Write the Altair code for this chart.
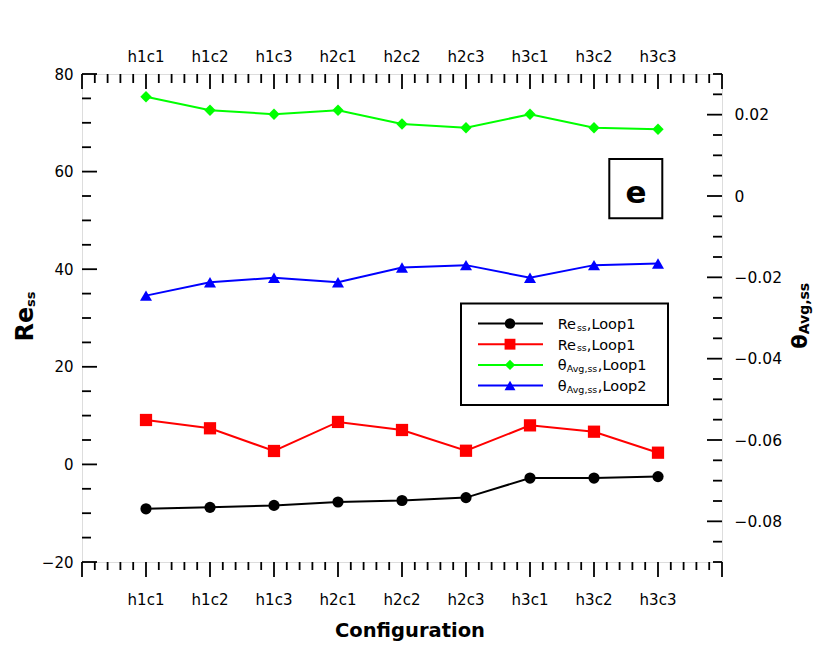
import altair as alt
import pandas as pd

# ---------------- data ----------------
configs = ["h1c1", "h1c2", "h1c3", "h2c1", "h2c2", "h2c3", "h3c1", "h3c2", "h3c3"]
positions = list(range(1, len(configs) + 1))

re_ss_loop1_black = [-9.1, -8.8, -8.4, -7.7, -7.4, -6.8, -2.8, -2.8, -2.5]
re_ss_loop1_red = [9.1, 7.4, 2.75, 8.7, 7.05, 2.8, 8.0, 6.7, 2.4]
theta_avg_ss_loop1 = [0.0244, 0.0211, 0.0201, 0.0211, 0.0177, 0.0168, 0.0201, 0.0168, 0.0164]
theta_avg_ss_loop2 = [-0.0245, -0.0212, -0.0201, -0.0212, -0.0176, -0.0170, -0.0201, -0.0170, -0.0166]

re_major = [-20, 0, 20, 40, 60, 80]
theta_major = [-0.08, -0.06, -0.04, -0.02, 0, 0.02]

# ---------------- layout / style ----------------
RE_DOMAIN = [-20, 80]
TH_DOMAIN = [-0.09, 0.03]
X_DOMAIN = [0, 10]
W, H = 640, 488
FONT = "DejaVu Sans"
TICK_W = 1.8

re_minor = [v for v in range(-20, 81, 5) if v % 20 != 0]
theta_minor = []
for i in range(25):
    v = round(-0.09 + 0.005 * i, 4)
    if abs(round(v / 0.02) * 0.02 - v) > 1e-9:
        theta_minor.append(v)
x_major = list(range(0, 11))
x_minor = [round(i * 0.2, 1) for i in range(51) if i % 5 != 0]


def xq(field="pos"):
    return alt.X(f"{field}:Q", scale=alt.Scale(domain=X_DOMAIN, nice=False, zero=False), axis=None)


def yq(field, domain, axis=None):
    return alt.Y(f"{field}:Q", scale=alt.Scale(domain=domain, nice=False, zero=False), axis=axis)


def one():
    return pd.DataFrame({"k": [0]})


def tick_layer(values, domain, orient, length):
    df = pd.DataFrame({"v": values})
    if orient == "left":
        enc = dict(y=yq("v", domain), x=alt.value(0), x2=alt.value(length))
    elif orient == "right":
        enc = dict(y=yq("v", domain), x=alt.value(W), x2=alt.value(W - length))
    elif orient == "top":
        enc = dict(x=xq("v"), y=alt.value(0), y2=alt.value(length))
    else:
        enc = dict(x=xq("v"), y=alt.value(H), y2=alt.value(H + length))
    return alt.Chart(df).mark_rule(color="black", strokeWidth=TICK_W).encode(**enc)


def text_piece(s, x, y, size, bold=False, angle=0, align="left", baseline="alphabetic"):
    kw = dict(align=align, baseline=baseline, font=FONT, fontSize=size, color="black")
    if bold:
        kw["fontWeight"] = "bold"
    if angle:
        kw["angle"] = angle
    return alt.Chart(one()).mark_text(**kw).encode(
        x=alt.value(x), y=alt.value(y), text=alt.value(s))


# approximate DejaVu Sans advance widths (em)
REG = {"R": 0.695, "e": 0.615, "s": 0.521, ",": 0.318, "L": 0.557, "o": 0.612,
       "p": 0.635, "1": 0.636, "2": 0.636, "θ": 0.613, "A": 0.684, "v": 0.592, "g": 0.635}
BOLD = {"R": 0.768, "e": 0.678, "s": 0.595, ",": 0.380, "θ": 0.685, "A": 0.774,
        "v": 0.650, "g": 0.716}


def width(s, size, table):
    return sum(table.get(c, 0.6) for c in s) * size


left_axis = alt.Axis(orient="left", values=re_major, format="d", ticks=False, tickSize=0,
                     domain=False, grid=False, labelPadding=9, labelFontSize=15,
                     labelFont=FONT, labelColor="black", title=None)
right_axis = alt.Axis(orient="right", values=theta_major, format="~g", ticks=False, tickSize=0,
                      domain=False, grid=False, labelPadding=12, labelFontSize=15.5,
                      labelFont=FONT, labelColor="black", title=None)

series = [
    dict(values=re_ss_loop1_black, domain=RE_DOMAIN, color="#000000", shape="circle",
         size=125, lsize=110, main="Re", sub="ss", rest=",Loop1", axis=left_axis),
    dict(values=re_ss_loop1_red, domain=RE_DOMAIN, color="#ff0000", shape="square",
         size=150, lsize=118, main="Re", sub="ss", rest=",Loop1", axis=None),
    dict(values=theta_avg_ss_loop1, domain=TH_DOMAIN, color="#00ff00", shape="diamond",
         size=130, lsize=105, main="θ", sub="Avg,ss", rest=",Loop1", axis=right_axis),
    dict(values=theta_avg_ss_loop2, domain=TH_DOMAIN, color="#0000ff", shape="triangle-up",
         size=145, lsize=120, main="θ", sub="Avg,ss", rest=",Loop2", axis=None),
]

layers = []

# ticks (inside on left/right/top, outside on bottom)
layers += [
    tick_layer(re_major, RE_DOMAIN, "left", 15),
    tick_layer(re_minor, RE_DOMAIN, "left", 9),
    tick_layer(theta_major, TH_DOMAIN, "right", 15),
    tick_layer(theta_minor, TH_DOMAIN, "right", 9),
    tick_layer(x_major, None, "top", 15),
    tick_layer(x_minor, None, "top", 9),
    tick_layer(x_major, None, "bottom", 15),
    tick_layer(x_minor, None, "bottom", 8),
]

# data series
for s in series:
    df = pd.DataFrame({"pos": positions, "v": s["values"]})
    layers.append(
        alt.Chart(df).mark_line(
            color=s["color"], strokeWidth=2,
            point=alt.OverlayMarkDef(filled=True, shape=s["shape"], size=s["size"],
                                     color=s["color"], opacity=1, strokeWidth=0),
        ).encode(x=xq(), y=yq("v", s["domain"], s["axis"]))
    )

# category labels top and bottom
cat_df = pd.DataFrame({"pos": positions, "config": configs})
for ypos in (-12.3, 531):
    layers.append(
        alt.Chart(cat_df).mark_text(font=FONT, fontSize=15, baseline="alphabetic",
                                    align="center", color="black")
        .encode(x=xq(), y=alt.value(ypos), text="config:N")
    )

# legend
layers.append(
    alt.Chart(one()).mark_rect(fill="white", stroke="black", strokeWidth=2).encode(
        x=alt.value(379), x2=alt.value(586), y=alt.value(229.5), y2=alt.value(331))
)
MAIN_SIZE, SUB_SIZE = 14.5, 9.5
for i, s in enumerate(series):
    ry = 249.5 + i * 20.7
    layers.append(alt.Chart(one()).mark_rule(color=s["color"], strokeWidth=2).encode(
        x=alt.value(396), x2=alt.value(461), y=alt.value(ry)))
    layers.append(alt.Chart(one()).mark_point(
        filled=True, shape=s["shape"], size=s["lsize"], color=s["color"], opacity=1,
        strokeWidth=0).encode(x=alt.value(428), y=alt.value(ry)))
    x0 = 475.7
    base = ry + 5.5
    layers.append(text_piece(s["main"], x0, base, MAIN_SIZE))
    x1 = x0 + width(s["main"], MAIN_SIZE, REG) + 0.2
    layers.append(text_piece(s["sub"], x1, base + 1.5, SUB_SIZE))
    x2 = x1 + width(s["sub"], SUB_SIZE, REG)
    layers.append(text_piece(s["rest"], x2, base, MAIN_SIZE))

# "e" panel label
layers.append(
    alt.Chart(one()).mark_rect(fill="white", stroke="black", strokeWidth=2).encode(
        x=alt.value(527.3), x2=alt.value(580.3), y=alt.value(85), y2=alt.value(144.3))
)
layers.append(text_piece("e", 554, 129.3, 31, bold=True, align="center"))

# axis titles
# left: Re_ss rotated
re_size, ss_size = 24, 13
re_len = width("Re", re_size, BOLD)
ss_len = width("ss", ss_size, BOLD)
start = 242.5 + (re_len + ss_len) / 2
layers.append(text_piece("Re", -48.7, start, re_size, bold=True, angle=270))
layers.append(text_piece("ss", -47.5, start - re_len, ss_size, bold=True, angle=270))

# right: theta_Avg,ss rotated
th_size, sub_size = 21, 14
th_len = width("θ", th_size, BOLD)
sub_len = width("Avg,ss", sub_size, BOLD)
start_r = 241.5 + (th_len + sub_len) / 2
layers.append(text_piece("θ", 725, start_r, th_size, bold=True, angle=270))
layers.append(text_piece("Avg,ss", 727, start_r - th_len, sub_size, bold=True, angle=270))

# bottom title
layers.append(text_piece("Configuration", 328, 563, 19.5, bold=True, align="center"))

chart = (
    alt.layer(*layers)
    .properties(width=W, height=H, autosize=alt.AutoSizeParams(type="none"),
                padding={"left": 74, "top": 66, "right": 100, "bottom": 88})
    .resolve_scale(y="independent")
    .configure_view(stroke="black", strokeWidth=2)
    .configure(font=FONT)
)

chart.save("out.html", embed_options={"renderer": "svg", "actions": False})
